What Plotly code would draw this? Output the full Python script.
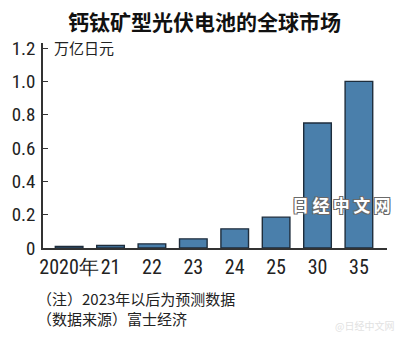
import plotly.graph_objects as go

# Global perovskite solar cell market (trillion yen)
years = ["2020年", "21", "22", "23", "24", "25", "30", "35"]
market = [0.01, 0.015, 0.025, 0.055, 0.115, 0.185, 0.75, 1.0]
y_ticks = [0, 0.2, 0.4, 0.6, 0.8, 1.0, 1.2]
y_tick_text = ["0", "0.2", "0.4", "0.6", "0.8", "1.0", "1.2"]

title_text = "钙钛矿型光伏电池的全球市场"
unit_text = "万亿日元"
note_lines = ["（注）2023年以后为预测数据", "（数据来源）富士经济"]
brand_text = "日经中文网"

W, H = 400, 343
L, R, T, B = 38, 387, 43, 248.5
CJK = "Noto Sans CJK SC"
NUM = "Liberation Sans Narrow, Roboto Condensed, Arial Narrow, sans-serif"


def px(x):
    return (x - L) / (R - L)


def py(y):
    return (B - y) / (B - T)


fig = go.Figure(
    go.Bar(
        x=list(range(len(years))),
        y=market,
        marker=dict(color="#4a7fab", line=dict(color="#1e2d3c", width=1.4)),
        hoverinfo="skip",
    )
)

fig.update_layout(
    width=W,
    height=H,
    margin=dict(l=L, r=W - R, t=T, b=H - B),
    paper_bgcolor="white",
    plot_bgcolor="white",
    bargap=0.333,
    showlegend=False,
    xaxis=dict(
        range=[-0.631, -0.631 + (R - L) / 42],
        tickmode="array",
        tickvals=list(range(len(years))),
        ticktext=years,
        tickangle=0,
        ticks="",
        showgrid=False,
        zeroline=False,
        showline=True,
        linecolor="#333",
        linewidth=1.5,
        tickfont=dict(family=NUM, size=20, color="#222"),
        fixedrange=True,
    ),
    yaxis=dict(
        range=[0, 1.23],
        tickmode="array",
        tickvals=y_ticks,
        ticktext=y_tick_text,
        ticks="inside",
        ticklen=5,
        tickcolor="#333",
        tickwidth=1,
        showgrid=False,
        zeroline=False,
        showline=True,
        linecolor="#333",
        linewidth=1.5,
        tickfont=dict(family=NUM, size=19, color="#222"),
        ticklabelstandoff=2,
        fixedrange=True,
    ),
)

annotations = [
    dict(
        text="<b>" + title_text + "</b>",
        x=px(202), y=py(21), xanchor="center", yanchor="middle",
        font=dict(family=CJK, size=21, color="#111"),
    ),
    dict(
        text=unit_text,
        x=px(47), y=py(48), xanchor="left", yanchor="middle",
        font=dict(family=CJK, size=15, color="#222"),
    ),
    dict(
        text=note_lines[0],
        x=px(30), y=py(299), xanchor="left", yanchor="middle",
        font=dict(family=CJK, size=15, color="#222"),
    ),
    dict(
        text=note_lines[1],
        x=px(30), y=py(319), xanchor="left", yanchor="middle",
        font=dict(family=CJK, size=15, color="#222"),
    ),
    dict(
        text="<b>" + "\u2009".join(brand_text) + "</b>",
        x=px(341), y=py(205), xanchor="center", yanchor="middle",
        font=dict(
            family=CJK, size=17, color="white",
            shadow="1px 1px 0 #6a6a6a, -1px -1px 0 #6a6a6a, 1px -1px 0 #6a6a6a, -1px 1px 0 #6a6a6a",
        ),
    ),
    dict(
        text="@" + brand_text,
        x=px(364), y=py(326), xanchor="center", yanchor="middle",
        font=dict(family=CJK, size=10, color="#e2e2e2"),
    ),
]
for a in annotations:
    a.update(xref="paper", yref="paper", showarrow=False)
fig.update_layout(annotations=annotations)

fig.write_html("out.html", config={"displayModeBar": False})
